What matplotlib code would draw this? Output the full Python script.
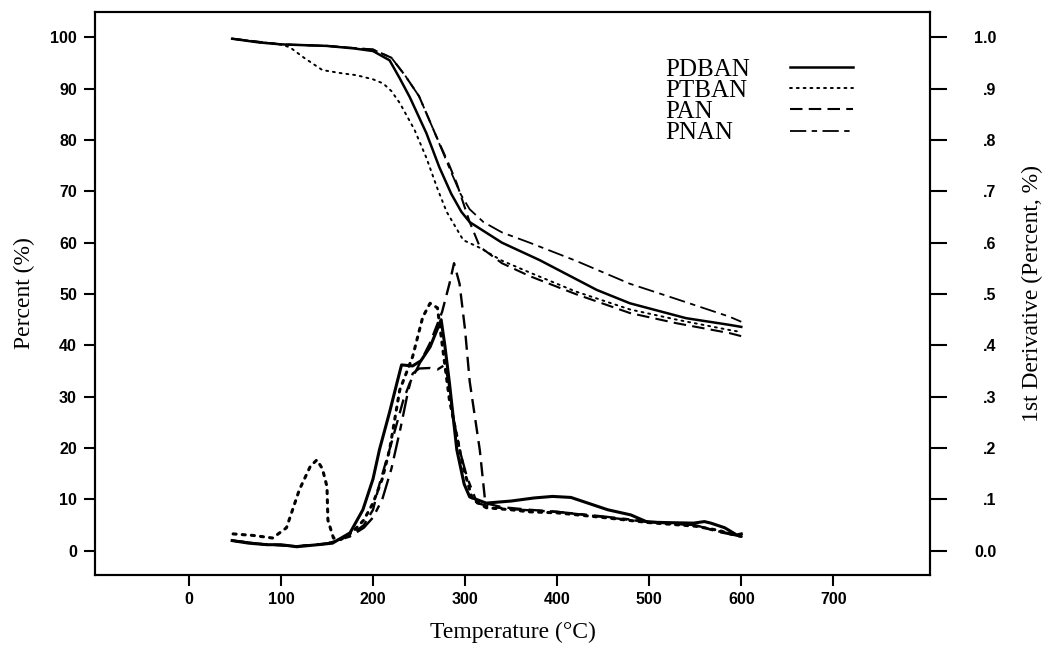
import matplotlib
matplotlib.use("Agg")
import matplotlib.pyplot as plt
import numpy as np

# ---- TG curves (Percent, %) ----
pdban_tg_T = [47, 75, 100, 150, 180, 200, 218, 229, 240, 258, 272, 285, 296, 305, 340, 381, 443, 479, 540, 587, 600]
pdban_tg = [99.7, 99.0, 98.6, 98.3, 97.8, 97.3, 95.5, 92.0, 88.3, 81.3, 74.7, 69.5, 66.0, 64.0, 60.0, 56.6, 50.8, 48.2, 45.3, 44.0, 43.6]

ptban_tg_T = [47, 75, 100, 110, 125, 145, 165, 182, 200, 211, 220, 229, 245, 258, 270, 280, 298, 316, 340, 370, 420, 479, 530, 587, 600]
ptban_tg = [99.7, 99.0, 98.6, 98.0, 96.0, 93.6, 93.0, 92.6, 91.8, 91.0, 89.5, 87.2, 82.0, 76.5, 70.5, 66.0, 60.5, 59.0, 56.5, 54.2, 50.5, 47.0, 45.0, 43.0, 42.6]

pan_tg_T = [47, 100, 150, 200, 220, 235, 250, 268, 283, 291, 305, 316, 340, 370, 420, 479, 530, 587, 600]
pan_tg = [99.7, 98.6, 98.3, 97.6, 96.0, 92.5, 88.5, 81.0, 75.0, 71.5, 64.0, 59.2, 56.0, 53.5, 50.0, 46.3, 44.3, 42.4, 41.8]

pnan_tg_T = [47, 100, 150, 200, 220, 235, 250, 268, 283, 295, 305, 320, 340, 370, 420, 479, 530, 587, 600]
pnan_tg = [99.7, 98.6, 98.3, 97.6, 96.0, 92.5, 88.5, 81.0, 74.5, 69.5, 66.5, 64.0, 62.0, 60.0, 56.5, 52.0, 49.0, 45.6, 44.6]

# ---- DTG curves (1st derivative) ----
pdban_dtg_T = [47, 65, 85, 100, 117, 140, 156, 175, 189, 200, 207, 218, 226, 231, 243, 252, 262, 274, 278, 283, 291, 299, 305, 323, 350, 375, 395, 415, 430, 455, 480, 498, 520, 548, 560, 567, 582, 595, 600]
pdban_dtg = [0.020, 0.015, 0.012, 0.012, 0.008, 0.012, 0.015, 0.035, 0.080, 0.14, 0.197, 0.27, 0.327, 0.362, 0.36, 0.37, 0.397, 0.45, 0.40, 0.327, 0.197, 0.13, 0.105, 0.093, 0.097, 0.103, 0.106, 0.104, 0.095, 0.08, 0.07, 0.056, 0.055, 0.054, 0.057, 0.054, 0.045, 0.031, 0.033]

ptban_dtg_T = [48, 70, 91, 106, 120, 132, 139, 145, 150, 151, 157, 165, 178, 190, 200, 210, 218, 229, 243, 254, 262, 270, 276, 283, 298, 308, 323, 350, 370, 400, 450, 500, 550, 575, 590, 600]
ptban_dtg = [0.033, 0.03, 0.025, 0.045, 0.119, 0.165, 0.177, 0.16, 0.125, 0.06, 0.025, 0.022, 0.037, 0.06, 0.093, 0.14, 0.197, 0.313, 0.378, 0.455, 0.482, 0.473, 0.39, 0.294, 0.163, 0.10, 0.084, 0.08, 0.076, 0.074, 0.065, 0.055, 0.048, 0.04, 0.032, 0.028]

pan_dtg_T = [47, 80, 117, 150, 175, 190, 200, 207, 220, 233, 240, 251, 262, 275, 283, 288, 294, 300, 305, 316, 322, 340, 370, 400, 450, 500, 550, 575, 600]
pan_dtg = [0.02, 0.013, 0.009, 0.014, 0.03, 0.05, 0.08, 0.13, 0.21, 0.294, 0.327, 0.366, 0.405, 0.465, 0.52, 0.56, 0.52, 0.43, 0.33, 0.196, 0.093, 0.085, 0.08, 0.076, 0.066, 0.056, 0.05, 0.038, 0.030]

pnan_dtg_T = [47, 80, 117, 150, 175, 190, 200, 210, 220, 230, 238, 243, 250, 262, 270, 278, 282, 287, 295, 302, 313, 330, 360, 400, 450, 500, 550, 575, 600]
pnan_dtg = [0.02, 0.013, 0.009, 0.014, 0.028, 0.045, 0.065, 0.10, 0.16, 0.24, 0.31, 0.345, 0.355, 0.356, 0.353, 0.362, 0.33, 0.26, 0.19, 0.144, 0.093, 0.085, 0.08, 0.076, 0.067, 0.057, 0.05, 0.037, 0.028]

labels = ["PDBAN", "PTBAN", "PAN", "PNAN"]
x_ticks = [0, 100, 200, 300, 400, 500, 600, 700]
y_ticks = [0, 10, 20, 30, 40, 50, 60, 70, 80, 90, 100]
r_ticks = [0.0, 0.1, 0.2, 0.3, 0.4, 0.5, 0.6, 0.7, 0.8, 0.9, 1.0]
r_ticklabels = ["0.0", ".1", ".2", ".3", ".4", ".5", ".6", ".7", ".8", ".9", "1.0"]

serif = ["Liberation Serif", "DejaVu Serif"]
tickfont = {"family": "Liberation Sans", "weight": "bold", "size": 11.5}

fig = plt.figure(figsize=(10.53, 6.46), dpi=100)
ax = fig.add_axes([0.0902, 0.1099, 0.7930, 0.8715])
ax2 = ax.twinx()

styles = [
    dict(linestyle="-", lw=1.8),
    dict(linestyle=(0, (1, 2.5)), lw=1.4, dash_capstyle="round"),
    dict(linestyle=(0, (6, 3)), lw=1.5),
    dict(linestyle=(0, (9, 3, 3, 3)), lw=1.3),
]
dstyles = [
    dict(linestyle="-", lw=2.2),
    dict(linestyle=(0, (1, 2)), lw=2.2, dash_capstyle="round"),
    dict(linestyle=(0, (6, 3)), lw=1.7),
    dict(linestyle=(0, (9, 3, 3, 3)), lw=1.7),
]

tgT = [pdban_tg_T, ptban_tg_T, pan_tg_T, pnan_tg_T]
tgV = [pdban_tg, ptban_tg, pan_tg, pnan_tg]
dT = [pdban_dtg_T, ptban_dtg_T, pan_dtg_T, pnan_dtg_T]
dV = [pdban_dtg, ptban_dtg, pan_dtg, pnan_dtg]

handles = []
for i in range(4):
    h, = ax.plot(tgT[i], tgV[i], color="black", label=labels[i], **styles[i])
    handles.append(h)
    ax2.plot(dT[i], dV[i], color="black", **dstyles[i])

ax.set_xlim(-102, 805)
ax.set_ylim(-4.7, 104.9)
ax2.set_ylim(-0.047, 1.049)

ax.set_xticks(x_ticks)
ax.set_xticklabels([str(t) for t in x_ticks], fontdict=tickfont)
ax.set_yticks(y_ticks)
ax.set_yticklabels([str(t) for t in y_ticks], fontdict=tickfont)
ax2.set_yticks(r_ticks)
ax2.set_yticklabels(r_ticklabels, fontdict=tickfont)

ax.tick_params(axis="x", direction="out", length=8, width=1.5, pad=4)
ax.tick_params(axis="y", direction="out", length=8, width=1.5, pad=5)
ax2.tick_params(axis="y", direction="out", length=12, width=1.5, pad=36)
for lab in ax2.get_yticklabels():
    lab.set_horizontalalignment("right")

for a in (ax, ax2):
    for s in a.spines.values():
        s.set_linewidth(1.5)

ax.set_xlabel("Temperature (°C)", family=serif, fontsize=17, labelpad=11)
ax.set_ylabel("Percent (%)", family=serif, fontsize=17, labelpad=11)
ax2.set_ylabel("1st Derivative (Percent, %)", family=serif, fontsize=17, labelpad=18, rotation=90)

leg = ax.legend(handles=handles, labels=labels, loc="upper left", bbox_to_anchor=(0.683, 0.918),
                frameon=False, markerfirst=False, prop={"family": serif, "size": 18},
                labelspacing=-0.05, handlelength=2.5, handletextpad=1.6, borderpad=0, borderaxespad=0)

# left-align the legend label texts (labels sit before the line samples)
fig.canvas.draw()
texts = leg.get_texts()
widths = [t.get_window_extent().width for t in texts]
maxw = max(widths)
for t, w in zip(texts, widths):
    t.set_x(-(maxw - w))

fig.savefig("out.png", dpi=100)
